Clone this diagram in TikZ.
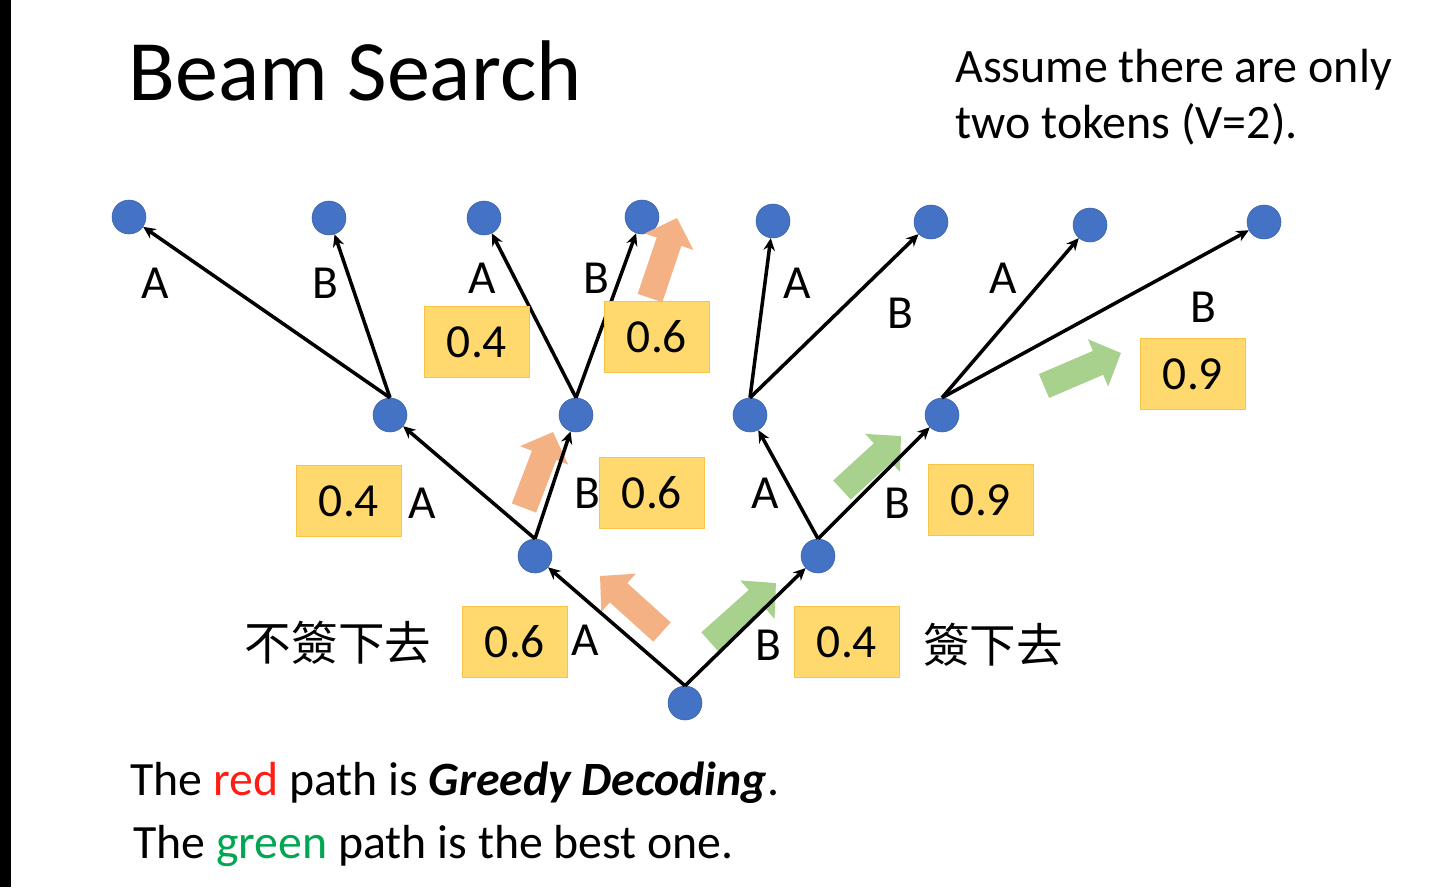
\documentclass[tikz,border=0pt]{standalone}
\usepackage{fontspec}
\setmainfont{Carlito}
\newfontfamily\cjk{Noto Sans CJK TC}
\usetikzlibrary{arrows.meta}
\definecolor{nodeblue}{RGB}{68,114,196}
\definecolor{boxfill}{RGB}{255,217,110}
\definecolor{boxline}{RGB}{248,196,70}
\definecolor{orangearr}{RGB}{244,177,131}
\definecolor{greenarr}{RGB}{169,209,142}
\definecolor{txtred}{RGB}{255,30,20}
\definecolor{txtgreen}{RGB}{0,166,81}
\tikzset{
  dot/.style={circle, fill=nodeblue, draw=nodeblue!85!black, line width=0.3pt, minimum size=0.68cm, inner sep=0pt},
  edge/.style={line width=2pt, -{Stealth[length=7pt, width=6.5pt]}},
  lab/.style={inner sep=0pt, font=\fontsize{27}{32}\selectfont},
  pbox/.style={fill=boxfill, draw=boxline, line width=0.8pt, minimum width=2.1cm, minimum height=1.42cm, inner sep=0pt, font=\fontsize{27}{32}\selectfont},
  barrow/.style={line width=0.52cm, -{Triangle[length=0.5cm 0, width=1.0cm 0]}},
  oarrow/.style={barrow, draw=orangearr, fill=orangearr},
  garrow/.style={barrow, draw=greenarr, fill=greenarr},
  ctext/.style={inner sep=0pt, font=\cjk\fontsize{26.5}{30}\selectfont},
  body/.style={inner sep=0pt, anchor=base west, font=\fontsize{27.2}{32}\selectfont},
}
\begin{document}
\begin{tikzpicture}[x=0.02cm, y=-0.02cm]
\path[use as bounding box, fill=white] (0,0) rectangle (1440,887);
\fill[black] (0,0) rectangle (11,887);

% title and notes
\node[inner sep=0pt, anchor=base west, font=\fontsize{49}{58}\selectfont] (title) at (128,100) {Beam Search};
\node[body, font=\fontsize{27.3}{32}\selectfont] (note1) at (955,82) {Assume there are only};
\node[body, font=\fontsize{27.3}{32}\selectfont] (note2) at (955,138) {two tokens (V=2).};

% tree nodes
\node[dot] (r) at (685,703) {};
\node[dot] (a) at (535,556) {};
\node[dot] (b) at (818,556) {};
\node[dot] (aa) at (390,415) {};
\node[dot] (ab) at (576,415) {};
\node[dot] (ba) at (750,415) {};
\node[dot] (bb) at (942,415) {};
\node[dot] (aaa) at (129,217) {};
\node[dot] (aab) at (329,218) {};
\node[dot] (aba) at (484,218) {};
\node[dot] (abb) at (642,217) {};
\node[dot] (baa) at (773,221) {};
\node[dot] (bab) at (931,222) {};
\node[dot] (bba) at (1090,225) {};
\node[dot] (bbb) at (1264,222) {};

% block arrows (drawn below edges)
\coordinate (o1t) at (662,632); \coordinate (o1h) at (600,576);
\coordinate (o2t) at (524,508); \coordinate (o2h) at (553,432);
\coordinate (o3t) at (650,298); \coordinate (o3h) at (677,218);
\coordinate (g1t) at (710,642); \coordinate (g1h) at (776,583);
\coordinate (g2t) at (842,490); \coordinate (g2h) at (901,436);
\coordinate (g3t) at (1044,386); \coordinate (g3h) at (1121,353);
\draw[oarrow] (o1t) -- (o1h);
\draw[oarrow] (o2t) -- (o2h);
\draw[oarrow] (o3t) -- (o3h);
\draw[garrow] (g1t) -- (g1h);
\draw[garrow] (g2t) -- (g2h);
\draw[garrow] (g3t) -- (g3h);

% edges
\draw[edge] (r.north) -- (a);
\draw[edge] (r.north) -- (b);
\draw[edge] (a.north) -- (aa);
\draw[edge] (a.north) -- (ab);
\draw[edge] (b.north) -- (ba);
\draw[edge] (b.north) -- (bb);
\draw[edge] (aa.north) -- (aaa);
\draw[edge] (aa.north) -- (aab);
\draw[edge] (ab.north) -- (aba);
\draw[edge] (ab.north) -- (abb);
\draw[edge] (ba.north) -- (baa);
\draw[edge] (ba.north) -- (bab);
\draw[edge] (bb.north) -- (bba);
\draw[edge] (bb.north) -- (bbb);

% edge labels
\node[lab] (lA0) at (585,640) {A};
\node[lab] (lB0) at (768,645) {B};
\node[lab] (lA1) at (422,503) {A};
\node[lab] (lB1) at (587,493) {B};
\node[lab] (lA2) at (765,493) {A};
\node[lab] (lB2) at (897,503) {B};
\node[lab] (lA3) at (155,283) {A};
\node[lab] (lB3) at (325,283) {B};
\node[lab] (lA4) at (482,278) {A};
\node[lab] (lB4) at (596,278) {B};
\node[lab] (lA5) at (797,283) {A};
\node[lab] (lB5) at (900,313) {B};
\node[lab] (lA6) at (1003,278) {A};
\node[lab] (lB6) at (1203,307) {B};

% probability boxes
\node[pbox] (p1) at (515,642) {0.6};
\node[pbox] (p2) at (847,642) {0.4};
\node[pbox] (p3) at (349,501) {0.4};
\node[pbox] (p4) at (652,493) {0.6};
\node[pbox] (p5) at (981,500) {0.9};
\node[pbox] (p6) at (477,342) {0.4};
\node[pbox] (p7) at (657,337) {0.6};
\node[pbox] (p8) at (1193,374) {0.9};

% chinese notes
\node[ctext] (c1) at (338,643) {不簽下去};
\node[ctext] (c2) at (993,645) {簽下去};

% bottom text
\node[body] (t1) at (130,795) {The \textcolor{txtred}{red} path is \textbf{\textit{Greedy Decoding}}.};
\node[body] (t2) at (133,858) {The \textcolor{txtgreen}{green} path is the best one.};
\end{tikzpicture}
\end{document}
